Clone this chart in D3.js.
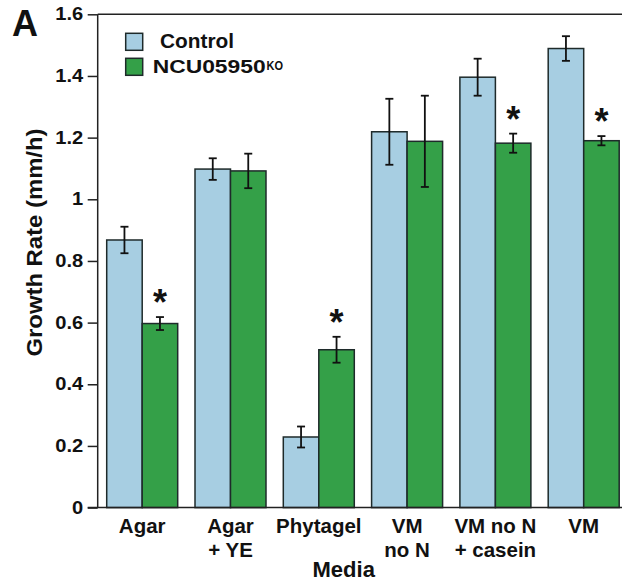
<!DOCTYPE html>
<html>
<head>
<meta charset="utf-8">
<script src="https://cdn.jsdelivr.net/npm/d3@7/dist/d3.min.js"></script>
<style>
  body { margin: 0; background: #fff; }
  svg { display: block; font-family: "Liberation Sans", Arial, sans-serif; font-weight: bold; }
</style>
</head>
<body>
<svg id="chart" width="622" height="584"></svg>
<script>
  // growth rate per medium
  var media = ['Agar', 'Agar + YE', 'Phytagel', 'VM no N', 'VM no N + casein', 'VM'];
  var mediaLines = [['Agar'], ['Agar', '+ YE'], ['Phytagel'], ['VM', 'no N'], ['VM no N', '+ casein'], ['VM']];
  var controlMean = [0.868, 1.098, 0.229, 1.219, 1.396, 1.489];
  var controlErr = [0.043, 0.035, 0.034, 0.107, 0.060, 0.040];
  var koMean = [0.597, 1.092, 0.512, 1.188, 1.182, 1.190];
  var koErr = [0.021, 0.056, 0.042, 0.148, 0.031, 0.015];
  var significant = [true, false, true, false, true, true];
  var yTicks = [0, 0.2, 0.4, 0.6, 0.8, 1, 1.2, 1.4, 1.6];
  var yTickLabels = ['0', '0.2', '0.4', '0.6', '0.8', '1', '1.2', '1.4', '1.6'];
  var seriesNames = ['Control', 'NCU05950'];

  (function() {
    var colors = { control: '#a7cee2', ko: '#34a048' };
    var svg = d3.select('#chart');
    var W = 622, plotLeft = 97.7, plotTop = 14.3, plotBottom = 507.6;
    var tickStretch = 1.15;

    var x = d3.scaleBand().domain(media).range([plotLeft, 628.2]).paddingInner(0.196).paddingOuter(0.102);
    var xs = d3.scaleBand().domain(['control', 'ko']).range([0, x.bandwidth()]);
    var y = d3.scaleLinear().domain([0, 1.6]).range([plotBottom, plotTop]);

    var flat = [];
    media.forEach(function(m, i) {
      flat.push({ m: m, key: 'control', mean: controlMean[i], err: controlErr[i], sig: false });
      flat.push({ m: m, key: 'ko', mean: koMean[i], err: koErr[i], sig: significant[i] });
    });
    var cx = function(d) { return x(d.m) + xs(d.key) + xs.bandwidth() / 2; };

    // bars
    svg.append('g').selectAll('rect').data(flat).enter().append('rect')
      .attr('x', function(d) { return x(d.m) + xs(d.key); })
      .attr('y', function(d) { return y(d.mean); })
      .attr('width', xs.bandwidth())
      .attr('height', function(d) { return y(0) - y(d.mean); })
      .attr('fill', function(d) { return colors[d.key]; })
      .attr('stroke', '#1e2a2a').attr('stroke-width', 1.5);

    // error bars
    var eb = svg.append('g').attr('stroke', '#111').attr('stroke-width', 1.8).attr('fill', 'none');
    flat.forEach(function(d) {
      var c = cx(d), y1 = y(d.mean + d.err), y2 = y(d.mean - d.err);
      eb.append('line').attr('x1', c).attr('x2', c).attr('y1', y1).attr('y2', y2);
      eb.append('line').attr('x1', c - 4).attr('x2', c + 4).attr('y1', y1).attr('y2', y1);
      eb.append('line').attr('x1', c - 4).attr('x2', c + 4).attr('y1', y2).attr('y2', y2);
    });

    // significance stars
    svg.append('g').selectAll('text').data(flat.filter(function(d) { return d.sig; })).enter().append('text')
      .attr('x', cx)
      .attr('y', function(d) { return y(d.mean + d.err) - 2; })
      .attr('text-anchor', 'middle').attr('font-size', 36).attr('fill', '#111')
      .text('*');

    // y axis
    var yAxis = svg.append('g').attr('transform', 'translate(' + plotLeft + ',0)')
      .call(d3.axisLeft(y).tickValues(yTicks).tickFormat(function(d, i) { return yTickLabels[i]; }).tickSize(10).tickPadding(4.4));
    yAxis.attr('font-family', null).attr('font-size', null);
    yAxis.select('.domain').attr('stroke', '#222').attr('stroke-width', 1.5).attr('d', 'M0,' + plotTop + 'V' + plotBottom);
    yAxis.selectAll('.tick line').attr('stroke', '#222').attr('stroke-width', 1.5);
    yAxis.selectAll('.tick text').attr('font-size', 17.5).attr('fill', '#111')
      .attr('x', -14.4 / tickStretch)
      .attr('transform', 'scale(' + tickStretch + ',1)');

    // top frame and x baseline
    svg.append('line').attr('x1', plotLeft).attr('x2', W).attr('y1', plotTop).attr('y2', plotTop).attr('stroke', '#222').attr('stroke-width', 1.5);
    svg.append('line').attr('x1', plotLeft - 10).attr('x2', W).attr('y1', plotBottom).attr('y2', plotBottom).attr('stroke', '#222').attr('stroke-width', 1.5);

    // category labels
    svg.append('g').selectAll('text').data(media).enter().append('text')
      .attr('text-anchor', 'middle').attr('font-size', 20.5).attr('fill', '#111')
      .attr('y', 532.7)
      .each(function(d, i) {
        var t = d3.select(this), c = x(d) + x.bandwidth() / 2;
        mediaLines[i].forEach(function(s, j) {
          t.append('tspan').attr('x', c).attr('dy', j ? 24.3 : 0).text(s);
        });
      });

    svg.append('text').attr('x', 343.7).attr('y', 577).attr('text-anchor', 'middle')
      .attr('font-size', 22).attr('fill', '#111').text('Media');

    svg.append('text').attr('transform', 'translate(41.5,242.5) rotate(-90)').attr('text-anchor', 'middle')
      .attr('font-size', 22).attr('textLength', 228).attr('lengthAdjust', 'spacingAndGlyphs')
      .attr('fill', '#111').text('Growth Rate (mm/h)');

    svg.append('text').attr('x', 12).attr('y', 36).attr('font-size', 36).attr('fill', '#111').text('A');

    // legend
    var leg = svg.append('g');
    leg.append('rect').attr('x', 125.7).attr('y', 33.3).attr('width', 17).attr('height', 17)
      .attr('fill', colors.control).attr('stroke', '#1e2a2a').attr('stroke-width', 1.5);
    leg.append('rect').attr('x', 125.7).attr('y', 58.3).attr('width', 17).attr('height', 17)
      .attr('fill', colors.ko).attr('stroke', '#1e2a2a').attr('stroke-width', 1.5);
    leg.append('text').attr('x', 160).attr('y', 47.7).attr('font-size', 19.5)
      .attr('textLength', 74).attr('lengthAdjust', 'spacingAndGlyphs')
      .attr('fill', '#111').text(seriesNames[0]);
    leg.append('text').attr('x', 152.7).attr('y', 72.7).attr('font-size', 18.5)
      .attr('textLength', 113).attr('lengthAdjust', 'spacingAndGlyphs')
      .attr('fill', '#111').text(seriesNames[1]);
    leg.append('text').attr('x', 266.5).attr('y', 69.5).attr('font-size', 13.5)
      .attr('textLength', 16.5).attr('lengthAdjust', 'spacingAndGlyphs')
      .attr('fill', '#111').text('KO');
  })();
</script>
</body>
</html>
